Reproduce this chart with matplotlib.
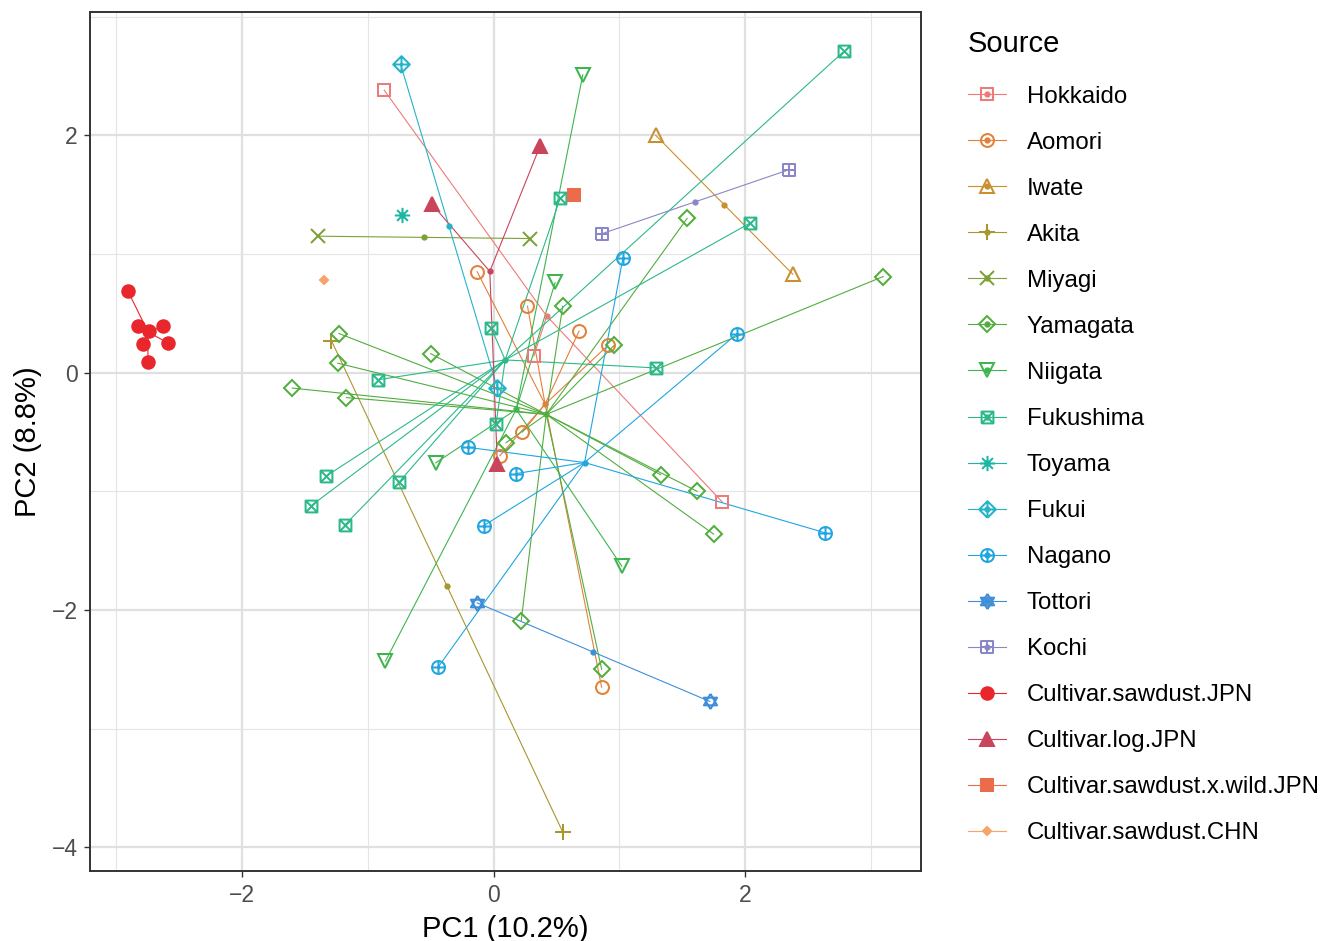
import matplotlib
matplotlib.use('Agg')
import matplotlib.pyplot as plt
from matplotlib.path import Path
from matplotlib.lines import Line2D
from matplotlib.legend_handler import HandlerTuple
from matplotlib.ticker import MultipleLocator
import numpy as np

# PCA scores
groups = ['Hokkaido', 'Aomori', 'Iwate', 'Akita', 'Miyagi', 'Yamagata', 'Niigata',
          'Fukushima', 'Toyama', 'Fukui', 'Nagano', 'Tottori', 'Kochi',
          'Cultivar.sawdust.JPN', 'Cultivar.log.JPN', 'Cultivar.sawdust.x.wild.JPN',
          'Cultivar.sawdust.CHN']

source = (['Hokkaido'] * 3 + ['Aomori'] * 7 + ['Iwate'] * 2 + ['Akita'] * 2 +
          ['Miyagi'] * 2 + ['Yamagata'] * 15 + ['Niigata'] * 5 + ['Fukushima'] * 11 +
          ['Toyama'] * 1 + ['Fukui'] * 2 + ['Nagano'] * 7 + ['Tottori'] * 2 +
          ['Kochi'] * 2 + ['Cultivar.sawdust.JPN'] * 7 + ['Cultivar.log.JPN'] * 3 +
          ['Cultivar.sawdust.x.wild.JPN'] * 1 + ['Cultivar.sawdust.CHN'] * 1)

pc1 = [-0.87, 0.32, 1.82,
       -0.13, 0.27, 0.68, 0.91, 0.23, 0.05, 0.86,
       1.29, 2.38,
       -1.29, 0.55,
       -1.40, 0.29,
       -1.23, -1.24, -1.60, -1.17, -0.50, 0.55, 0.96, 1.54, 3.10, 1.33, 1.62, 1.75, 0.22, 0.86, 0.10,
       0.71, 0.49, -0.46, -0.86, 1.02,
       2.79, 0.53, 2.04, -0.02, 1.29, -0.92, 0.02, -1.33, -0.75, -1.45, -1.18,
       -0.73,
       -0.74, 0.03,
       1.03, 1.94, 2.64, -0.20, 0.18, -0.08, -0.44,
       -0.13, 1.72,
       0.86, 2.35,
       -2.91, -2.83, -2.74, -2.63, -2.79, -2.59, -2.75,
       -0.49, 0.37, 0.03,
       0.64,
       -1.35]

pc2 = [2.38, 0.14, -1.09,
       0.85, 0.56, 0.35, 0.23, -0.50, -0.70, -2.65,
       2.00, 0.83,
       0.27, -3.87,
       1.15, 1.13,
       0.33, 0.08, -0.13, -0.21, 0.16, 0.56, 0.23, 1.30, 0.81, -0.86, -1.00, -1.36, -2.09, -2.50, -0.59,
       2.51, 0.76, -0.76, -2.43, -1.63,
       2.71, 1.47, 1.26, 0.38, 0.04, -0.06, -0.43, -0.87, -0.92, -1.12, -1.28,
       1.33,
       2.60, -0.13,
       0.97, 0.33, -1.35, -0.63, -0.85, -1.29, -2.48,
       -1.94, -2.77,
       1.17, 1.71,
       0.69, 0.39, 0.35, 0.39, 0.24, 0.25, 0.09,
       1.42, 1.91, -0.77,
       1.50,
       0.78]

x_label = 'PC1 (10.2%)'
y_label = 'PC2 (8.8%)'


# marker shapes (ggplot style)
def poly_path(lines):
    verts, codes = [], []
    for ln in lines:
        verts += ln
        codes += [Path.MOVETO] + [Path.LINETO] * (len(ln) - 1)
    return Path(verts, codes)


sq = [(-1, -1), (1, -1), (1, 1), (-1, 1), (-1, -1)]
dia = [(0, -1), (1, 0), (0, 1), (-1, 0), (0, -1)]
plus = [[(-1, 0), (1, 0)], [(0, -1), (0, 1)]]
cross = [[(-1, -1), (1, 1)], [(-1, 1), (1, -1)]]
d = 0.707
sq_cross = poly_path([sq] + cross)
sq_plus = poly_path([sq] + plus)
dia_plus = poly_path([dia] + plus)
asterisk = poly_path(plus + [[(-d, -d), (d, d)], [(-d, d), (d, -d)]])
circ_plus = Path.make_compound_path(Path.unit_circle(), poly_path(plus))
david = poly_path([[(0, 1), (-0.866, -0.5), (0.866, -0.5), (0, 1)],
                   [(0, -1), (-0.866, 0.5), (0.866, 0.5), (0, -1)]])

# name: (colour, marker, size, filled)
style = {
    'Hokkaido': ('#EF7A7A', 's', 8.3, False),
    'Aomori': ('#E3803A', 'o', 9.3, False),
    'Iwate': ('#C8902E', '^', 10.5, False),
    'Akita': ('#A8962F', '+', 11, False),
    'Miyagi': ('#7DA137', 'x', 9.5, False),
    'Yamagata': ('#52AD3E', 'D', 8.3, False),
    'Niigata': ('#3EB54F', 'v', 10.5, False),
    'Fukushima': ('#2BB98A', sq_cross, 8.5, False),
    'Toyama': ('#1CB6A2', asterisk, 11, False),
    'Fukui': ('#25B4C8', dia_plus, 12, False),
    'Nagano': ('#1FA6E0', circ_plus, 9.3, False),
    'Tottori': ('#3E8FD8', david, 11, False),
    'Kochi': ('#8A87C8', sq_plus, 8.5, False),
    'Cultivar.sawdust.JPN': ('#E8262B', 'o', 9, True),
    'Cultivar.log.JPN': ('#C9455B', '^', 10, True),
    'Cultivar.sawdust.x.wild.JPN': ('#EC6B4B', 's', 8, True),
    'Cultivar.sawdust.CHN': ('#F7A36A', 'D', 4.5, True),
}

plt.rcParams['font.family'] = ['Liberation Sans', 'DejaVu Sans']

fig = plt.figure(figsize=(13.2, 9.41), dpi=100)
ax = fig.add_axes([90 / 1320, 1 - 871 / 941, 831 / 1320, 859 / 941])

src = np.array(source)
x_all = np.array(pc1)
y_all = np.array(pc2)

handles = []
for g in groups:
    col, mk, ms, filled = style[g]
    m = src == g
    x, y = x_all[m], y_all[m]
    cx, cy = x.mean(), y.mean()
    for xi, yi in zip(x, y):
        ax.plot([cx, xi], [cy, yi], color=col, lw=0.8, zorder=2)
    kw = dict(color=col, marker=mk, ms=ms, mew=1.45, ls='none',
              mfc=col if filled else 'none', mec=col)
    ax.plot(x, y, zorder=3, **kw)
    ax.plot([cx], [cy], 'o', color=col, ms=3.5, zorder=4)
    handles.append((Line2D([], [], color=col, lw=0.8),
                    Line2D([], [], **kw),
                    Line2D([], [], marker='o', color=col, ms=3.5, ls='none')))

ax.margins(0.05)
ax.xaxis.set_major_locator(MultipleLocator(2))
ax.xaxis.set_minor_locator(MultipleLocator(1))
ax.yaxis.set_major_locator(MultipleLocator(2))
ax.yaxis.set_minor_locator(MultipleLocator(1))
ax.grid(which='major', color='#E0E0E0', lw=1.6, zorder=0)
ax.grid(which='minor', color='#E4E4E4', lw=0.8, zorder=0)
ax.set_axisbelow(True)
ax.tick_params(which='minor', length=0)
ax.tick_params(which='major', length=4, width=1, color='#333333',
               labelsize=16.5, labelcolor='#4D4D4D', pad=5)
for sp in ax.spines.values():
    sp.set_color('#333333')
    sp.set_linewidth(1.4)

ax.set_xlabel(x_label, fontsize=21, labelpad=6)
ax.set_ylabel(y_label, fontsize=21, labelpad=7)

fs = 17.3
leg = fig.legend(handles, groups, handler_map={tuple: HandlerTuple(ndivide=1, pad=0)},
                 loc='upper left', bbox_to_anchor=(963 / 1320, 1 - 25 / 941),
                 frameon=False, fontsize=fs, title='Source', title_fontsize=21,
                 handlelength=1.6, handletextpad=0.85, labelspacing=1.0,
                 borderaxespad=0, borderpad=0.2, alignment='left')
leg._legend_box.sep = fs * 1.0 + 2.8  # a bit more room under the title

fig.savefig('out.png', dpi=100)
